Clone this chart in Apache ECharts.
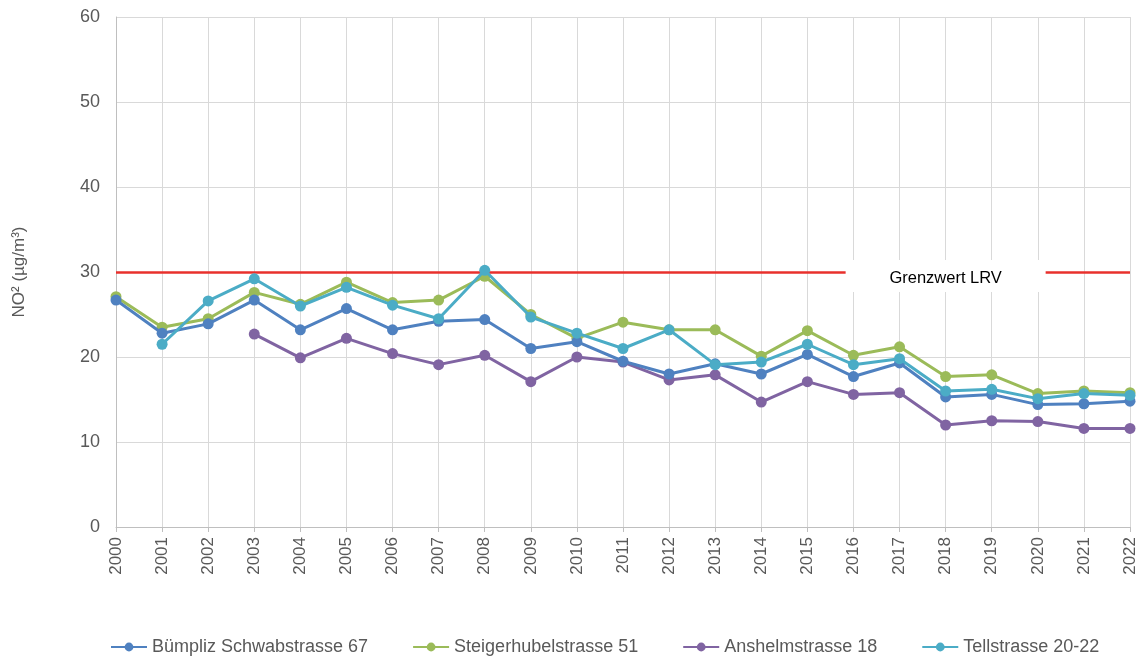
<!DOCTYPE html>
<html><head><meta charset="utf-8">
<script src="https://cdn.jsdelivr.net/npm/echarts@6/dist/echarts.min.js"></script>
<style>html,body{margin:0;padding:0;background:#fff}#c{width:1140px;height:660px}</style>
</head><body><div id="c"></div>
<script>
const years = ['2000','2001','2002','2003','2004','2005','2006','2007','2008','2009','2010','2011','2012','2013','2014','2015','2016','2017','2018','2019','2020','2021','2022'];
const buempliz = [26.7,22.8,23.9,26.7,23.2,25.7,23.2,24.2,24.4,21.0,21.8,19.5,18.0,19.2,18.0,20.3,17.7,19.3,15.3,15.6,14.4,14.5,14.8];
const steigerhubel = [27.1,23.5,24.5,27.6,26.2,28.8,26.4,26.7,29.5,25.0,22.2,24.1,23.2,23.2,20.1,23.1,20.2,21.2,17.7,17.9,15.7,16.0,15.8];
const anshelm = [null,null,null,22.7,19.9,22.2,20.4,19.1,20.2,17.1,20.0,19.4,17.3,17.9,14.7,17.1,15.6,15.8,12.0,12.5,12.4,11.6,11.6];
const tell = [null,21.5,26.6,29.2,26.0,28.2,26.1,24.5,30.2,24.7,22.8,21.0,23.2,19.1,19.4,21.5,19.1,19.8,16.0,16.2,15.1,15.7,15.5];
const grenzwert = 30;
const grenzLabel = 'Grenzwert LRV';
const grenzLabelYear = '2018';

const chart = echarts.init(document.getElementById('c'));
const font = 'Arial, "Liberation Sans", sans-serif';
function ser(name, data, color, z) {
  return {
    name, type: 'line', data, z,
    symbol: 'circle', symbolSize: 11,
    lineStyle: { width: 3, color },
    itemStyle: { color },
    connectNulls: false,
    animation: false
  };
}
const series = [
  ser('Bümpliz Schwabstrasse 67', buempliz, '#4f81c0', 5),
  ser('Steigerhubelstrasse 51', steigerhubel, '#9bbb59', 4),
  ser('Anshelmstrasse 18', anshelm, '#8064a2', 3),
  ser('Tellstrasse 20-22', tell, '#4bacc6', 6)
];
series[0].markLine = {
  silent: true, symbol: 'none', animation: false,
  lineStyle: { color: '#e8302c', width: 2.5, type: 'solid' },
  label: { show: false },
  data: [{ yAxis: grenzwert }]
};
series[0].markPoint = {
  silent: true, animation: false,
  symbol: 'rect', symbolSize: [200, 32], symbolOffset: [0, 4],
  itemStyle: { color: '#ffffff' },
  label: { show: true, color: '#000', fontSize: 16.5, fontFamily: font, formatter: grenzLabel, offset: [0, 2] },
  data: [{ coord: [grenzLabelYear, grenzwert] }]
};
chart.setOption({
  animation: false,
  textStyle: { fontFamily: font },
  grid: { left: 116, right: 10, top: 17, bottom: 133, containLabel: false, outerBoundsMode: 'none' },
  legend: {
    top: 633, left: 105, itemGap: 44, itemWidth: 36, itemHeight: 11,
    textStyle: { color: '#595959', fontSize: 18, fontFamily: font },
    data: series.map(s => s.name)
  },
  xAxis: {
    type: 'category', data: years, boundaryGap: false,
    axisLine: { lineStyle: { color: '#bfbfbf' } },
    axisTick: { show: true, length: 5, lineStyle: { color: '#bfbfbf' } },
    axisLabel: { rotate: 90, color: '#595959', fontSize: 17, margin: 10, interval: 0 },
    splitLine: { show: true, lineStyle: { color: '#d9d9d9', width: 1 } }
  },
  yAxis: {
    type: 'value', min: 0, max: 60, interval: 10,
    name: 'NO² (µg/m³)', nameLocation: 'middle', nameGap: 88, nameRotate: 90,
    nameTextStyle: { color: '#595959', fontSize: 17 },
    axisLine: { show: true, lineStyle: { color: '#bfbfbf' } },
    axisTick: { show: false },
    axisLabel: { color: '#595959', fontSize: 18, margin: 16 },
    splitLine: { lineStyle: { color: '#d9d9d9', width: 1 } }
  },
  series
});
</script></body></html>
